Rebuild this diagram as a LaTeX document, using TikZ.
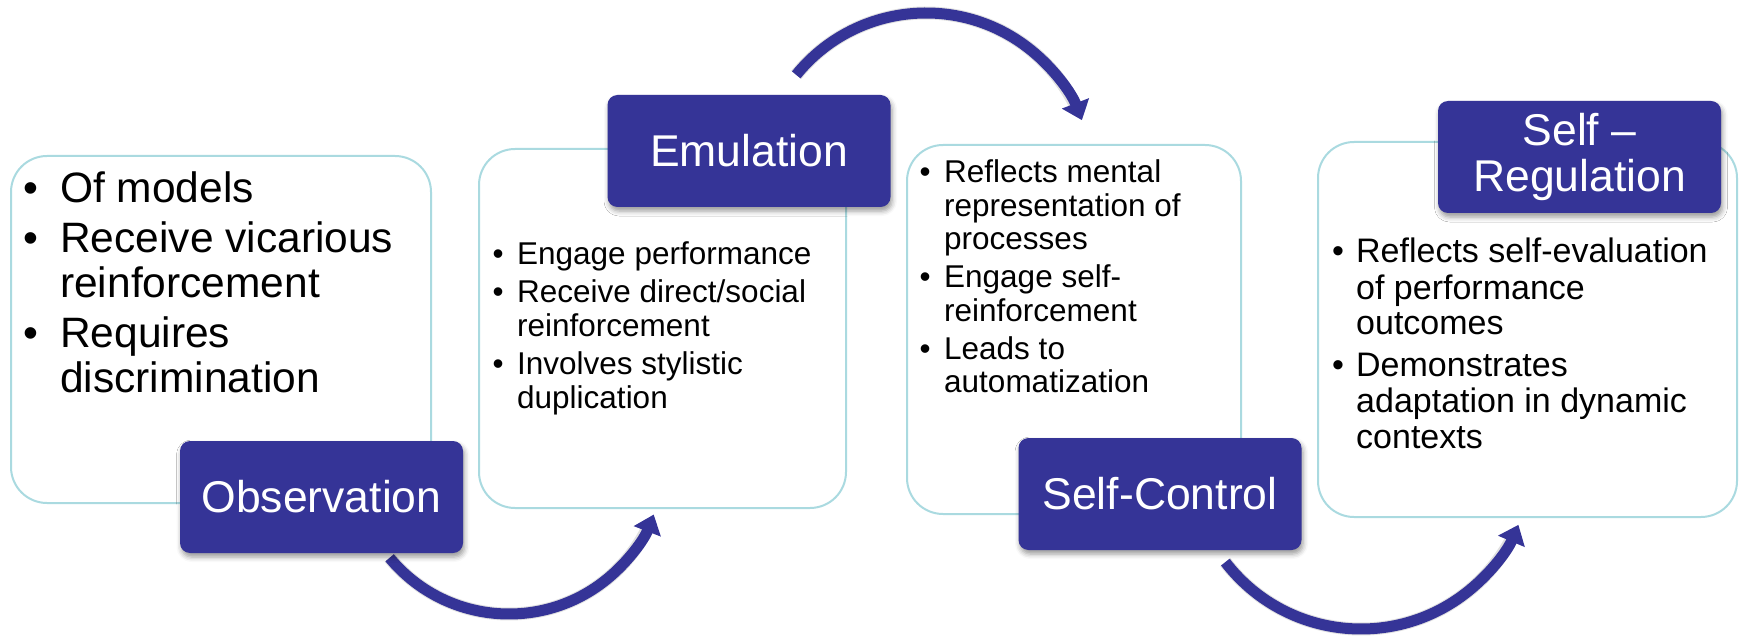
\documentclass[tikz,border=0pt]{standalone}
\usepackage{fontspec}
\setmainfont{Liberation Sans}
\usetikzlibrary{arrows.meta,shadows.blur}
\definecolor{lbl}{RGB}{53,52,151}
\definecolor{edge}{RGB}{170,218,224}
\newcommand{\bul}[1]{\makebox[#1][l]{\textbullet}}
\begin{document}
\begin{tikzpicture}[x=1pt,y=-1pt,
  card/.style={draw=edge, line width=2pt, fill=white, rounded corners=36pt, anchor=north west, inner sep=0pt},
  lab/.style={fill=lbl, rounded corners=10pt, text=white, minimum width=283pt, minimum height=112pt,
    inner sep=0pt, align=center, font=\fontsize{44.5}{46}\selectfont,
    blur shadow={shadow xshift=1.5pt, shadow yshift=-4pt, shadow opacity=40, shadow blur radius=5pt}},
  txt/.style={anchor=base west, inner sep=0pt},
  flow/.style={draw=lbl, line width=11pt, -{Triangle[length=18pt,width=28pt]}},
  flowshadow/.style={draw=black, opacity=0.12, line width=13pt},
]
\useasboundingbox (0,0) rectangle (1741,639);

% cards
\node[card, minimum width=420pt, minimum height=347pt] (c1) at (10,155) {};
\node[card, minimum width=367pt, minimum height=359pt] (c2) at (478,148) {};
\node[card, minimum width=334pt, minimum height=369pt] (c3) at (906,144) {};
\node[card, minimum width=419pt, minimum height=375pt] (c4) at (1317,141) {};

% texts
\node[txt] (t1) at (23.6,203) {\fontsize{42.5}{45}\selectfont\begin{tabular}[t]{@{}l@{}l@{}}
\bul{36.4pt}&Of models\\[5pt]
\bul{36.4pt}&Receive vicarious\\&reinforcement\\[5pt]
\bul{36.4pt}&Requires\\&discrimination\end{tabular}};

\node[txt] (t2) at (492.5,265) {\fontsize{31.5}{34}\selectfont\begin{tabular}[t]{@{}l@{}l@{}}
\bul{24.5pt}&Engage performance\\[4pt]
\bul{24.5pt}&Receive direct/social\\&reinforcement\\[4pt]
\bul{24.5pt}&Involves stylistic\\&duplication\end{tabular}};

\node[txt] (t3) at (919.5,183) {\fontsize{31.5}{33.5}\selectfont\begin{tabular}[t]{@{}l@{}l@{}}
\bul{24.5pt}&Reflects mental\\&representation of\\&processes\\[4.5pt]
\bul{24.5pt}&Engage self-\\&reinforcement\\[4.5pt]
\bul{24.5pt}&Leads to\\&automatization\end{tabular}};

\node[txt] (t4) at (1332,263) {\fontsize{34}{36}\selectfont\begin{tabular}[t]{@{}l@{}l@{}}
\bul{24pt}&Reflects self-evaluation\\&of performance\\&outcomes\\[6pt]
\bul{24pt}&Demonstrates\\&adaptation in dynamic\\&contexts\end{tabular}};

% arcs
\coordinate (o1) at (509,459);
\coordinate (o2) at (926,180);
\coordinate (o3) at (1361,458);
\begin{scope}[xshift=2pt,yshift=-4pt]
\draw[flowshadow] ([shift={(140.4:155)}]o1) arc[start angle=140.4, end angle=24, radius=155];
\draw[flowshadow] ([shift={(-141:167)}]o2) arc[start angle=-141, end angle=-24, radius=167];
\draw[flowshadow] ([shift={(142.5:171)}]o3) arc[start angle=142.5, end angle=26, radius=171];
\end{scope}
\draw[flow] ([shift={(140.4:155)}]o1) arc[start angle=140.4, end angle=21, radius=155];
\draw[flow] ([shift={(-141:167)}]o2) arc[start angle=-141, end angle=-21, radius=167];
\draw[flow] ([shift={(142.5:171)}]o3) arc[start angle=142.5, end angle=23, radius=171];

% labels
\node[lab] (l1) at (321.5,497) {Observation};
\node[lab] (l2) at (749,151) {Emulation};
\node[lab] (l3) at (1160,494) {Self-Control};
\node[lab] (l4) at (1579.5,157) {Self –\\Regulation};
\end{tikzpicture}
\end{document}
